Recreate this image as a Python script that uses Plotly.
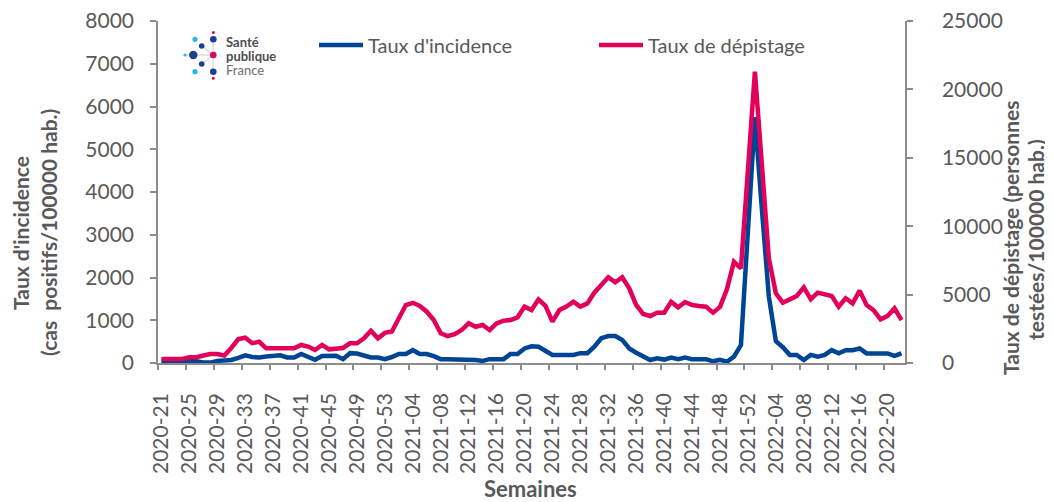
import plotly.graph_objects as go

# ---------------- data ----------------
weeks = ([f"2020-{w:02d}" for w in range(21, 54)] +
         [f"2021-{w:02d}" for w in range(1, 53)] +
         [f"2022-{w:02d}" for w in range(1, 23)])

incidence = [50, 30, 10, 10, 40, 40, 10, 10, 50, 60,
             70, 120, 180, 140, 130, 150, 165, 180, 130, 130,
             210, 130, 75, 165, 170, 170, 90, 230, 220, 170,
             130, 130, 90, 140, 210, 210, 300, 210, 210, 160,
             90, 90, 90, 90, 90, 70, 50, 90, 90, 90,
             210, 210, 340, 390, 380, 280, 190, 190, 190, 190,
             230, 230, 380, 580, 630, 630, 540, 340, 240, 160,
             70, 110, 80, 125, 90, 125, 90, 90, 90, 40,
             75, 30, 150, 420, 3200, 5750, 3600, 1550, 510, 370,
             190, 190, 70, 190, 150, 190, 300, 225, 300, 300,
             340, 225, 225, 225, 225, 165, 225]

depistage = [300, 300, 300, 300, 420, 420, 550, 650, 650, 550,
             1100, 1750, 1850, 1450, 1550, 1070, 1070, 1070, 1070, 1070,
             1320, 1200, 950, 1320, 1000, 1070, 1100, 1440, 1440, 1800,
             2360, 1800, 2200, 2300, 3300, 4240, 4400, 4170, 3750, 3140,
             2170, 1970, 2100, 2410, 2900, 2650, 2780, 2410, 2900, 3090,
             3140, 3340, 4120, 3870, 4650, 4170, 3020, 3870, 4120, 4480,
             4120, 4360, 5140, 5750, 6270, 5900, 6270, 5460, 4240, 3580,
             3435, 3680, 3680, 4480, 4070, 4460, 4240, 4170, 4120, 3680,
             4100, 5400, 7400, 6920, 14100, 21300, 14500, 7650, 5100, 4410,
             4650, 4900, 5530, 4660, 5140, 5020, 4900, 4120, 4730, 4360,
             5290, 4240, 3870, 3190, 3440, 4000, 3140]

label_step = 4
tick_idx = list(range(0, len(weeks), label_step))
tick_text = [weeks[i] for i in tick_idx]

BLUE = "#004495"
PINK = "#E2005A"
GREY = "#595959"
AXIS = "#8C8C8C"
FONT = "Lato"

# ---------------- geometry (page pixels; the page body has an 8 px margin) ----------------
OFF = 8
PAGE_W, PAGE_H = 1053, 502
W, H = PAGE_W - OFF, PAGE_H - OFF
L, R, T, B = 158, 905, 21, 363          # plot area in page pixels
PW, PH = R - L, B - T


def px(x):
    return (x - L) / PW


def py(y):
    return (B - y) / PH


xs = list(range(len(weeks)))

fig = go.Figure()
fig.add_trace(go.Scatter(x=xs, y=incidence, name="Taux d'incidence", mode="lines",
                         line=dict(color=BLUE, width=4.5), yaxis="y"))
fig.add_trace(go.Scatter(x=xs, y=depistage, name="Taux de dépistage", mode="lines",
                         line=dict(color=PINK, width=4.5), yaxis="y2"))
# invisible trace to carry the boundary tick marks of the category axis
fig.add_trace(go.Scatter(x=[xs[0]], y=[None], xaxis="x2", showlegend=False,
                         hoverinfo="skip"))

xr = [-0.5, len(weeks) - 0.5]

fig.update_layout(
    width=W, height=H,
    margin=dict(l=L - OFF, r=PAGE_W - R, t=T - OFF, b=PAGE_H - B, pad=0, autoexpand=False),
    paper_bgcolor="white", plot_bgcolor="white",
    font=dict(family=FONT, color=GREY, size=20),
    showlegend=True,
    legend=dict(orientation="h", x=px(314), y=py(45), xanchor="left", yanchor="middle",
                font=dict(family=FONT, size=20, color=GREY), bgcolor="rgba(0,0,0,0)",
                entrywidth=221, entrywidthmode="pixels", itemwidth=44,
                tracegroupgap=0),
    xaxis=dict(range=xr, tickmode="array", tickvals=tick_idx, ticktext=tick_text,
               tickangle=-90, ticks="outside", ticklen=6, tickcolor="rgba(0,0,0,0)",
               ticklabelstandoff=14, automargin=False, ticklabeloverflow="allow",
               showline=True, linecolor=AXIS, linewidth=1.5, showgrid=False, zeroline=False,
               tickfont=dict(family=FONT, size=21, color=GREY)),
    xaxis2=dict(range=xr, overlaying="x", anchor="y", side="bottom", automargin=False,
                tickmode="array", tickvals=[i - 0.5 for i in tick_idx],
                ticks="outside", ticklen=6, tickcolor=AXIS, tickwidth=1.5,
                showticklabels=False, showline=False, showgrid=False, zeroline=False),
    yaxis=dict(range=[0, 8000], dtick=1000, tickformat="d", ticks="outside", ticklen=6,
               tickcolor=AXIS, tickwidth=1.5, ticklabelstandoff=12, automargin=False,
               ticklabeloverflow="allow",
               showline=True, linecolor=AXIS, linewidth=1.5, showgrid=False, zeroline=False,
               tickfont=dict(family=FONT, size=21, color=GREY)),
    yaxis2=dict(range=[0, 25000], dtick=5000, tickformat="d", overlaying="y", side="right",
                ticks="outside", ticklen=6, tickcolor=AXIS, tickwidth=1.5, ticklabelstandoff=25,
                automargin=False, ticklabeloverflow="allow",
                showline=True, linecolor=AXIS, linewidth=1.5, showgrid=False, zeroline=False,
                tickfont=dict(family=FONT, size=21, color=GREY)),
)

ann = []


def text(t, x, y, size, angle=0, xanchor="center", color=GREY):
    ann.append(dict(text=t, x=px(x), y=py(y), xref="paper", yref="paper", showarrow=False,
                    textangle=angle, xanchor=xanchor, yanchor="middle",
                    font=dict(family=FONT, size=size, color=color)))


# axis titles
text("<b>Semaines</b>", 530, 488, 22)
text("<b>Taux d'incidence</b>", 20, 233, 21, -90)
text("<b>(cas  positifs/100000 hab.)</b>", 48, 233, 21, -90)
text("<b>Taux de dépistage (personnes</b>", 1010, 238, 21, -90)
text("<b>testées/100000 hab.)</b>", 1035, 240, 21, -90)

# logo text
text("<b>Santé</b>", 224, 42, 13, xanchor="left", color="#4D4D4F")
text("<b>publique</b>", 224, 56, 13, xanchor="left", color="#4D4D4F")
text("France", 224, 70, 13, xanchor="left", color="#6D6E70")
fig.update_layout(annotations=ann)

# logo graphics (decoration)
shapes = []
LB = "#29B6E8"
DB = "#1E3F8F"
PK = "#E2005A"
LG = "#C8C8C8"


def line(x0, y0, x1, y1):
    shapes.append(dict(type="line", xref="paper", yref="paper", x0=px(x0), y0=py(y0),
                       x1=px(x1), y1=py(y1), line=dict(color=LG, width=1), layer="below"))


def dot(cx, cy, r, color):
    shapes.append(dict(type="circle", xref="paper", yref="paper", x0=px(cx - r), x1=px(cx + r),
                       y0=py(cy + r), y1=py(cy - r), fillcolor=color, line=dict(width=0)))


line(193, 55, 213, 55)
line(201.7, 46, 213, 55)
line(201.7, 64, 213, 55)
line(213, 39, 213, 72)
line(185, 55, 193, 55)
dot(213.3, 32.5, 1.5, PK)
dot(195, 39.3, 2.6, LB)
dot(213.3, 39.3, 3.3, DB)
dot(201.7, 46, 2.8, DB)
dot(185, 55, 1.6, LB)
dot(193.3, 55, 4.2, DB)
dot(213.3, 55, 3.3, PK)
dot(201.7, 64, 2.8, DB)
dot(195, 71.7, 2.6, LB)
dot(213.3, 71.7, 3.3, DB)
dot(213.3, 78.3, 1.5, PK)
fig.update_layout(shapes=shapes)

fig.write_html("out.html")
